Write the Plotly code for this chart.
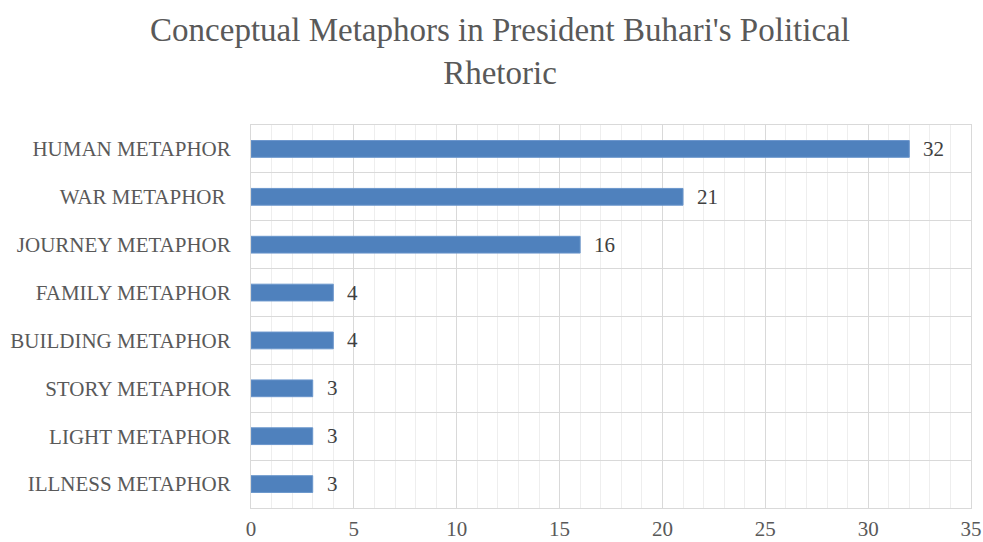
import plotly.graph_objects as go

categories = ["HUMAN METAPHOR", "WAR METAPHOR ", "JOURNEY METAPHOR", "FAMILY METAPHOR",
              "BUILDING METAPHOR", "STORY METAPHOR", "LIGHT METAPHOR", "ILLNESS METAPHOR"]
values = [32, 21, 16, 4, 4, 3, 3, 3]
x_ticks = [0, 5, 10, 15, 20, 25, 30, 35]

FONT = "Liberation Serif, Times New Roman, serif"
GRID = "#d9d9d9"

fig = go.Figure()
fig.add_trace(go.Bar(
    x=values, y=categories, orientation="h", width=0.35,
    marker=dict(color="#4F81BD", line=dict(color="#6a96cc", width=1)),
    hoverinfo="x+y",
))

for c, v in zip(categories, values):
    fig.add_annotation(x=v, y=c, text=str(v), showarrow=False, xanchor="left",
                       xshift=12, font=dict(family=FONT, size=21, color="#404040"))

fig.update_layout(
    width=983, height=542,
    margin=dict(l=251, r=12, t=125, b=34, autoexpand=False),
    paper_bgcolor="white", plot_bgcolor="white",
    title=dict(text="Conceptual Metaphors in President Buhari's Political<br>Rhetoric",
               x=500 / 983, xanchor="center", y=0.925, yanchor="middle",
               font=dict(family=FONT, size=33, color="#595959")),
    showlegend=False,
    bargap=0.65,
)
fig.update_xaxes(
    range=[0, 35], tickvals=x_ticks, ticktext=[str(t) for t in x_ticks],
    showgrid=True, gridcolor=GRID, gridwidth=1,
    minor=dict(dtick=1, showgrid=True, gridcolor="#eeeeee", gridwidth=1),
    showline=True, linecolor=GRID, linewidth=1, mirror=True,
    zeroline=False, ticks="", ticklabelstandoff=2,
    tickfont=dict(family=FONT, size=21, color="#595959"),
)
fig.update_yaxes(
    categoryorder="array", categoryarray=categories, range=[7.5, -0.5],
    tickson="boundaries", showgrid=True, gridcolor=GRID, gridwidth=1,
    showline=True, linecolor=GRID, linewidth=1, mirror=True,
    ticks="", ticklabelstandoff=15,
    tickfont=dict(family=FONT, size=21, color="#595959"),
)

fig.write_html("out.html")
